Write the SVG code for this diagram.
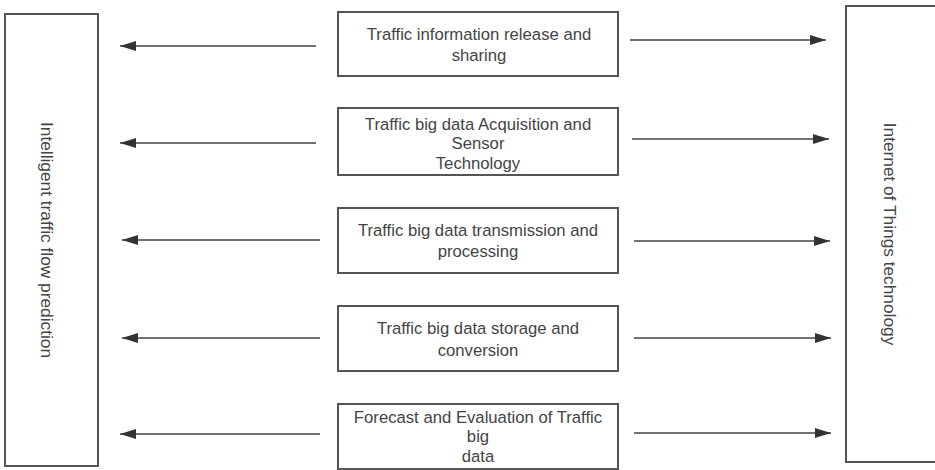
<svg xmlns="http://www.w3.org/2000/svg" width="935" height="470" viewBox="0 0 935 470">
<style>
.box{fill:#fff;stroke:#555;stroke-width:2}
.t{font-family:"Liberation Sans",Arial,sans-serif;font-size:16.7px;fill:#444;text-anchor:middle;dominant-baseline:central}
.v{font-size:17.3px}
.c{stroke:#444;stroke-width:1.6;fill:none}
</style>
<defs>
<marker id="ah" viewBox="0 0 16 10" refX="16" refY="5" markerWidth="16" markerHeight="10" markerUnits="userSpaceOnUse" orient="auto">
<path d="M0,0 L16,5 L0,10 Z" fill="#333"/>
</marker>
</defs>
<rect width="935" height="470" fill="#fff"/>
<g id="left">
<rect class="box" x="5" y="14" width="93" height="452"/>
<text class="t v" transform="translate(47,240) rotate(90)">Intelligent traffic flow prediction</text>
</g>
<g id="right">
<rect class="box" x="846" y="6" width="92" height="456"/>
<text class="t v" transform="translate(890,234) rotate(90)">Internet of Things technology</text>
</g>
<g id="n1">
<rect class="box" x="338" y="12" width="280" height="64"/>
<text class="t" x="479" y="34">Traffic information release and</text>
<text class="t" x="479" y="55">sharing</text>
</g>
<g id="n2">
<rect class="box" x="338" y="108" width="280" height="67"/>
<text class="t" x="478" y="124">Traffic big data Acquisition and</text>
<text class="t" x="478" y="143.5">Sensor</text>
<text class="t" x="478" y="163">Technology</text>
</g>
<g id="n3">
<rect class="box" x="338" y="208" width="280" height="65"/>
<text class="t" x="478" y="230">Traffic big data transmission and</text>
<text class="t" x="478" y="251">processing</text>
</g>
<g id="n4">
<rect class="box" x="338" y="306" width="280" height="65"/>
<text class="t" x="478" y="328">Traffic big data storage and</text>
<text class="t" x="478" y="350">conversion</text>
</g>
<g id="n5">
<rect class="box" x="338" y="404" width="280" height="65"/>
<text class="t" x="478" y="417">Forecast and Evaluation of Traffic</text>
<text class="t" x="478" y="436.5">big</text>
<text class="t" x="478" y="456">data</text>
</g>
<g id="connectors">
<line class="c" x1="316" y1="46" x2="120" y2="46" marker-end="url(#ah)"/>
<line class="c" x1="630" y1="40" x2="826" y2="40" marker-end="url(#ah)"/>
<line class="c" x1="316" y1="143" x2="120" y2="143" marker-end="url(#ah)"/>
<line class="c" x1="632" y1="139" x2="829" y2="139" marker-end="url(#ah)"/>
<line class="c" x1="320" y1="240" x2="122" y2="240" marker-end="url(#ah)"/>
<line class="c" x1="634" y1="241" x2="830" y2="241" marker-end="url(#ah)"/>
<line class="c" x1="320" y1="338" x2="122" y2="338" marker-end="url(#ah)"/>
<line class="c" x1="634" y1="338" x2="831" y2="338" marker-end="url(#ah)"/>
<line class="c" x1="320" y1="434" x2="120" y2="434" marker-end="url(#ah)"/>
<line class="c" x1="634" y1="433" x2="831" y2="433" marker-end="url(#ah)"/>
</g>
</svg>
